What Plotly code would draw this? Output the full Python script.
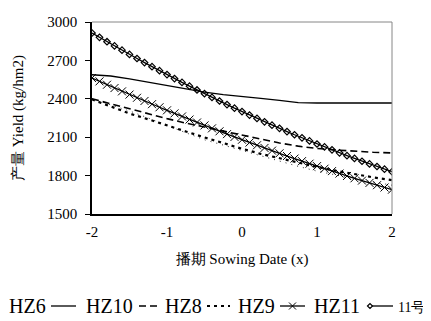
import plotly.graph_objects as go

# x positions (sowing date, coded)
x_fine = [round(-2 + 0.1 * i, 1) for i in range(41)]
x_coarse = [-2, -1.75, -1.5, -1.25, -1, -0.75, -0.5, -0.25, 0,
            0.25, 0.5, 0.75, 1, 1.25, 1.5, 1.75, 2]

hz6 = [2400, 2355, 2305, 2250, 2190, 2135, 2080, 2038, 2000,
       1955, 1912, 1872, 1835, 1802, 1775, 1750, 1725]
hz10 = [2588, 2578, 2556, 2530, 2505, 2478, 2452, 2432, 2415,
        2403, 2388, 2370, 2367, 2367, 2367, 2367, 2367]
hz8 = [2400, 2360, 2320, 2282, 2245, 2210, 2178, 2147, 2117,
       2086, 2055, 2030, 2012, 2000, 1990, 1982, 1977]
hz9 = [2395, 2340, 2285, 2240, 2195, 2145, 2098, 2052, 2010,
       1970, 1935, 1900, 1868, 1838, 1810, 1786, 1765]
hz11 = [2562, 2536, 2510, 2484, 2458, 2433, 2408, 2383, 2358, 2334,
        2310, 2286, 2262, 2238, 2215, 2192, 2169, 2146, 2124, 2102,
        2080, 2058, 2037, 2016, 1995, 1974, 1953, 1933, 1913, 1893,
        1874, 1854, 1835, 1816, 1797, 1779, 1761, 1743, 1725, 1707, 1690]
no11 = [2914, 2880, 2846, 2813, 2780, 2747, 2715, 2683, 2651, 2620,
        2589, 2558, 2528, 2499, 2469, 2440, 2411, 2383, 2355, 2327,
        2300, 2273, 2247, 2220, 2194, 2169, 2144, 2119, 2095, 2071,
        2047, 2024, 2001, 1978, 1956, 1934, 1912, 1891, 1871, 1850, 1830]

series_names = ["HZ6", "HZ10", "HZ8", "HZ9", "HZ11", "11号"]
x_ticks = [-2, -1, 0, 1, 2]
x_ticktext = ["-2", "-1", "0", "1", "2"]
y_ticks = [1500, 1800, 2100, 2400, 2700, 3000]

FONT = "Liberation Serif"

W, H = 431, 321
ML, MR, MT, MB = 84, 47, 14, 115
PW, PH = W - ML - MR, H - MT - MB


def px_x(p):
    return (p - ML) / PW


def px_y(p):
    return (H - MB - p) / PH


styles = {
    "HZ6": dict(color="#333333", width=1, dash="1px,5px"),
    "HZ10": dict(color="black", width=1.3),
    "HZ8": dict(color="black", width=1.6, dash="7px,4px"),
    "HZ9": dict(color="black", width=2.2, dash="3px,4px"),
    "HZ11": dict(color="black", width=1.3),
    "11号": dict(color="black", width=1.3),
}

fig = go.Figure()
fig.add_trace(go.Scatter(x=x_coarse, y=hz6, name=series_names[0], mode="lines",
                         line=styles["HZ6"]))
fig.add_trace(go.Scatter(x=x_coarse, y=hz10, name=series_names[1], mode="lines",
                         line=styles["HZ10"]))
fig.add_trace(go.Scatter(x=x_coarse, y=hz8, name=series_names[2], mode="lines",
                         line=styles["HZ8"]))
fig.add_trace(go.Scatter(x=x_coarse, y=hz9, name=series_names[3], mode="lines",
                         line=styles["HZ9"]))
fig.add_trace(go.Scatter(x=x_fine, y=hz11, name=series_names[4], mode="lines+markers",
                         line=styles["HZ11"],
                         marker=dict(symbol="x-thin", size=8,
                                     line=dict(color="black", width=1))))
fig.add_trace(go.Scatter(x=x_fine, y=no11, name=series_names[5],
                         mode="lines+markers",
                         line=styles["11号"],
                         marker=dict(symbol="diamond-open", size=5,
                                     line=dict(color="black", width=1.2))))

# hand-built legend: reference shows the first sample cut off at the left edge
LEG_Y = 298
legend_text = [("HZ6", 0, 20), ("HZ10", 77, 20), ("HZ8", 156, 20),
               ("HZ9", 229, 20), ("HZ11", 305, 20), ("11号", 389, 14)]
legend_samples = [("HZ10", 43, 68), ("HZ8", 131, 150), ("HZ9", 199, 222),
                  ("HZ11", 272, 297), ("11号", 360, 385)]

annotations = []
for txt, x0, fs in legend_text:
    annotations.append(dict(text=txt, xref="paper", yref="paper",
                            x=px_x(x0), y=px_y(LEG_Y + (1 if fs < 20 else 0)),
                            xanchor="left", yanchor="middle", showarrow=False,
                            borderpad=0,
                            font=dict(family=FONT, size=fs, color="black")))

shapes = [
    dict(type="line", xref="paper", yref="paper", x0=0, x1=1, y0=1, y1=1,
         line=dict(color="#868686", width=1)),
    dict(type="line", xref="paper", yref="paper", x0=1, x1=1, y0=0, y1=1,
         line=dict(color="#868686", width=1)),
]
for nm, a, b in legend_samples:
    shapes.append(dict(type="line", xref="paper", yref="paper",
                       x0=px_x(a), x1=px_x(b), y0=px_y(LEG_Y), y1=px_y(LEG_Y),
                       line=styles[nm]))
shapes.append(dict(type="path", xref="paper", yref="paper",
                   xsizemode="pixel", ysizemode="pixel",
                   xanchor=px_x(284.5), yanchor=px_y(LEG_Y),
                   path="M-3.5,-3.5 L3.5,3.5 M-3.5,3.5 L3.5,-3.5",
                   line=dict(color="black", width=1)))
shapes.append(dict(type="path", xref="paper", yref="paper",
                   xsizemode="pixel", ysizemode="pixel",
                   xanchor=px_x(362), yanchor=px_y(LEG_Y),
                   path="M-2.5,0 L0,2.5 L2.5,0 L0,-2.5 Z",
                   fillcolor="white", line=dict(color="black", width=1.2)))

fig.update_layout(
    width=W, height=H,
    margin=dict(l=ML, r=MR, t=MT, b=MB, autoexpand=False),
    paper_bgcolor="white", plot_bgcolor="white",
    font=dict(family=FONT, size=15, color="black"),
    showlegend=False,
    xaxis=dict(range=[-2, 2], tickvals=x_ticks, ticktext=x_ticktext,
               showgrid=False, zeroline=False, showline=True,
               linecolor="black", linewidth=1.5, ticks="",
               ticklabelstandoff=3,
               tickfont=dict(family=FONT, size=15, color="black"),
               title=dict(text="播期 Sowing Date (x)", standoff=15,
                          font=dict(family=FONT, size=15, color="black"))),
    yaxis=dict(range=[1500, 3000], tickvals=y_ticks,
               showgrid=False, zeroline=False, showline=True,
               linecolor="black", linewidth=1.5, ticks="outside",
               ticklen=5, tickcolor="black", tickwidth=1,
               ticklabelstandoff=5,
               tickfont=dict(family=FONT, size=15, color="black"),
               title=dict(text="产量 Yield (kg/hm2)", standoff=20,
                          font=dict(family=FONT, size=15, color="black"))),
    shapes=shapes,
    annotations=annotations,
)

fig.write_html("out.html")
